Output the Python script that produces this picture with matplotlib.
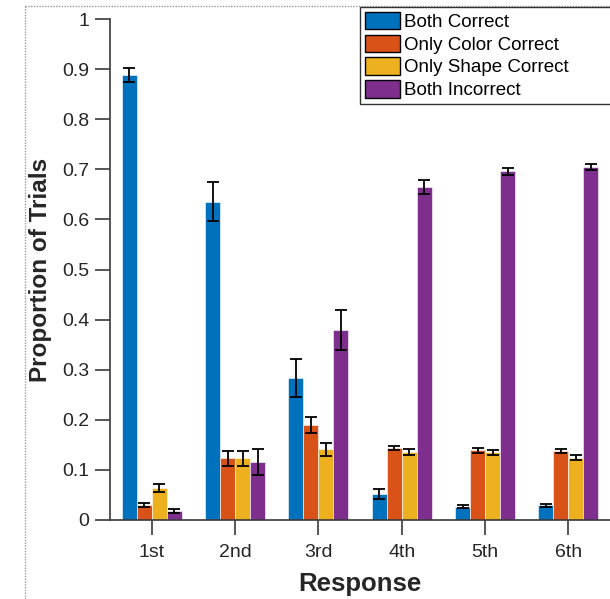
import numpy as np
import matplotlib
matplotlib.use('Agg')
import matplotlib.pyplot as plt
from matplotlib.lines import Line2D

plt.rcParams['font.family'] = ['Liberation Sans', 'DejaVu Sans']

# Data
responses = ['1st', '2nd', '3rd', '4th', '5th', '6th']
series_names = ['Both Correct', 'Only Color Correct', 'Only Shape Correct', 'Both Incorrect']
both_correct = [0.888, 0.635, 0.283, 0.051, 0.026, 0.029]
color_only = [0.029, 0.123, 0.190, 0.144, 0.139, 0.138]
shape_only = [0.063, 0.123, 0.141, 0.136, 0.135, 0.124]
both_incorrect = [0.017, 0.116, 0.380, 0.664, 0.696, 0.705]
both_correct_err = [0.014, 0.039, 0.038, 0.010, 0.003, 0.003]
color_only_err = [0.004, 0.015, 0.016, 0.004, 0.005, 0.004]
shape_only_err = [0.008, 0.015, 0.013, 0.006, 0.005, 0.005]
both_incorrect_err = [0.004, 0.026, 0.040, 0.014, 0.007, 0.006]

colors = ['#0072BD', '#D95319', '#EDB120', '#7E2F8E']

values = [both_correct, color_only, shape_only, both_incorrect]
errors = [both_correct_err, color_only_err, shape_only_err, both_incorrect_err]

fig = plt.figure(figsize=(6.10, 5.99), dpi=100)
ax = fig.add_axes([110 / 610, 1 - 520 / 599, 500 / 610, 501 / 599])

x = np.arange(1, len(responses) + 1)
width = 0.18
offsets = [-0.27, -0.09, 0.09, 0.27]
for vals, errs, col, off in zip(values, errors, colors, offsets):
    ax.bar(x + off, vals, width, color=col, edgecolor='white', linewidth=0.4, zorder=2)
    ax.errorbar(x + off, vals, yerr=errs, fmt='none', ecolor='black',
                elinewidth=1.3, capsize=4, capthick=1.3, zorder=3)

ax.set_xlim(0.5, 6.5)
ax.set_ylim(0, 1)
ax.set_xticks(x)
ax.set_xticklabels(responses)
ax.set_yticks(np.arange(0, 1.01, 0.1))
ax.set_yticklabels(['0', '0.1', '0.2', '0.3', '0.4', '0.5', '0.6', '0.7', '0.8', '0.9', '1'])
ax.tick_params(direction='out', length=11, width=1.2, colors='#3a3a3a',
               labelsize=14, labelcolor='#262626', pad=4)
ax.tick_params(axis='x', pad=6)
for s in ['top', 'right']:
    ax.spines[s].set_visible(False)
for s in ['left', 'bottom']:
    ax.spines[s].set_color('#3a3a3a')
    ax.spines[s].set_linewidth(1.2)

ax.set_xlabel('Response', fontsize=18.5, fontweight='bold', color='#262626', labelpad=8)
ax.set_ylabel('Proportion of Trials', fontsize=17.5, fontweight='bold', color='#262626', labelpad=7)

# dotted figure frame (clipped at right and bottom)
fig.add_artist(Line2D([25 / 610, 25 / 610], [0, 1 - 6 / 599], transform=fig.transFigure,
                      color='#999999', linestyle=(0, (1, 1)), linewidth=1))
fig.add_artist(Line2D([25 / 610, 1], [1 - 6 / 599, 1 - 6 / 599], transform=fig.transFigure,
                      color='#999999', linestyle=(0, (1, 1)), linewidth=1))

handles = [plt.Rectangle((0, 0), 1, 1, facecolor=c, edgecolor='black', linewidth=1) for c in colors]
leg = fig.legend(handles, series_names, loc='upper left',
                 bbox_to_anchor=(360 / 610, 1 - 7 / 599, 270 / 610, 0.0),
                 mode='expand', fontsize=13.5, frameon=True, fancybox=False,
                 handlelength=1.9, handleheight=1.05, handletextpad=0.2,
                 labelspacing=0.2, borderpad=0.25, borderaxespad=0)
leg.get_frame().set_edgecolor('black')
leg.get_frame().set_linewidth(1)

fig.savefig('out.png', dpi=100)
